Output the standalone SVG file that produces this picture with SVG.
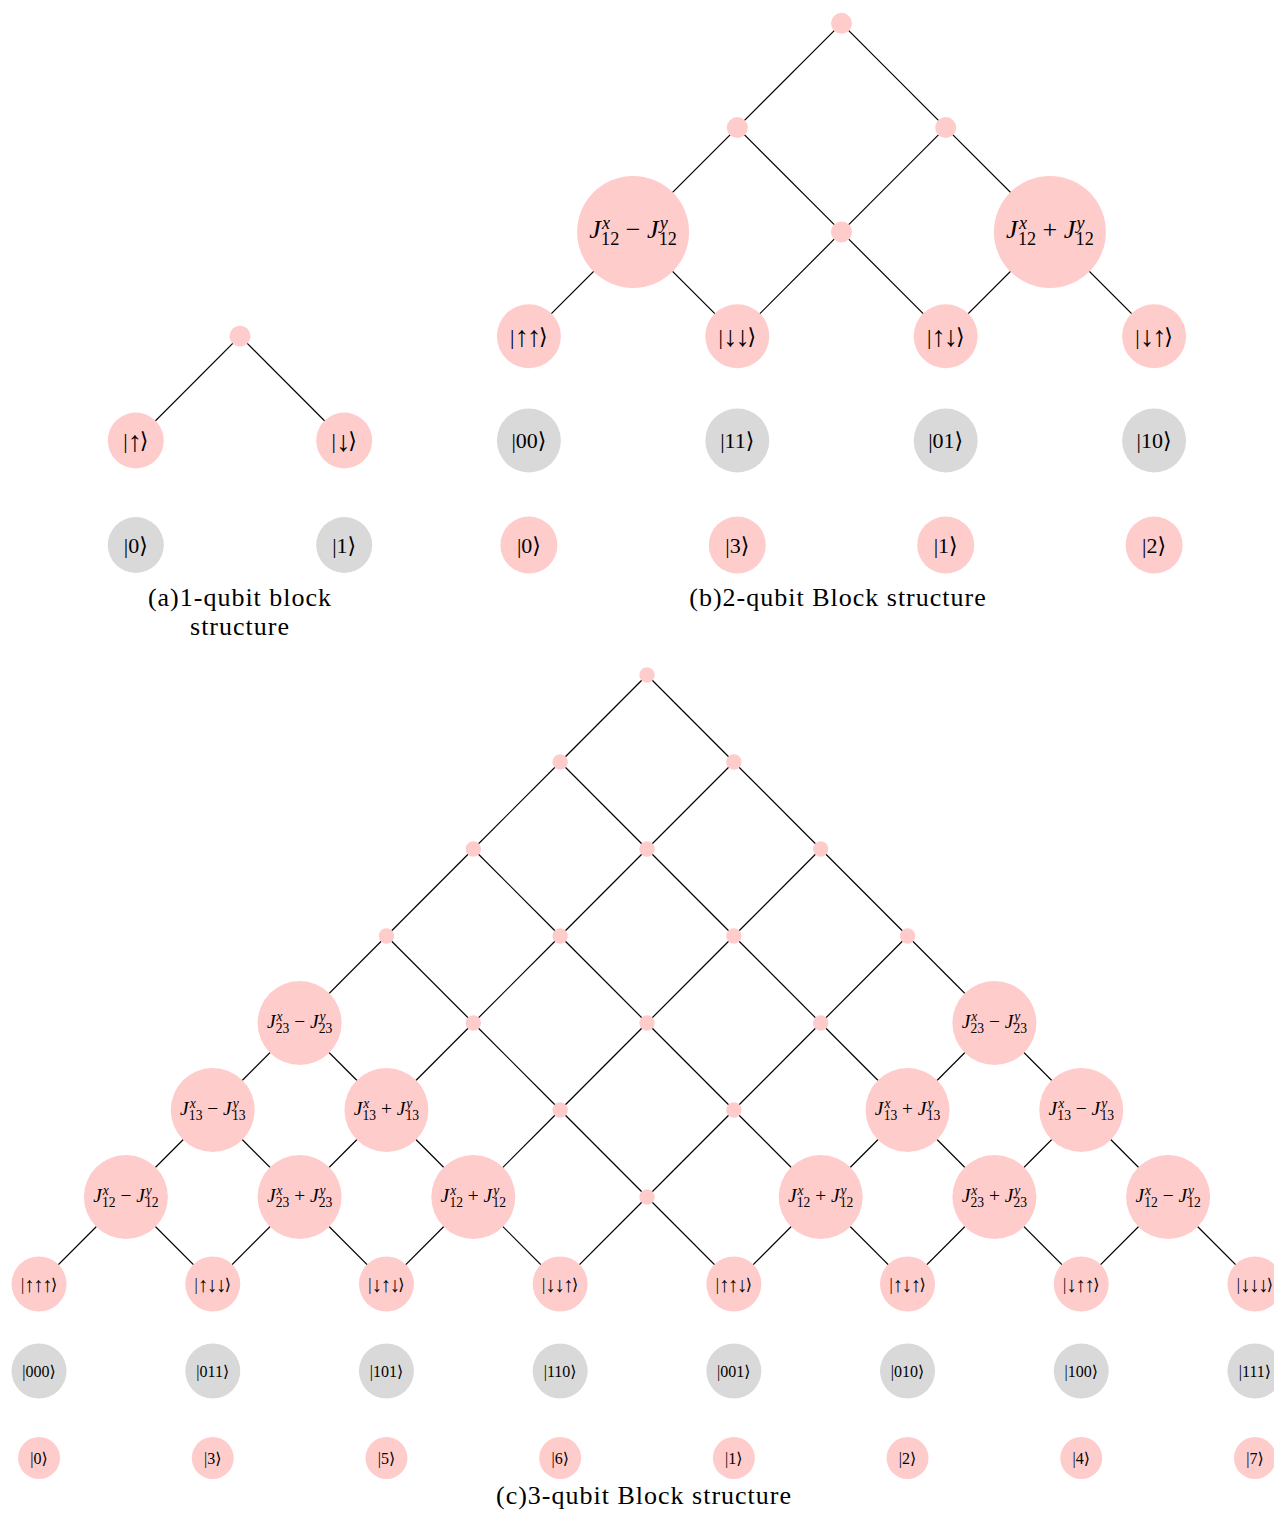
<svg xmlns="http://www.w3.org/2000/svg" width="1274" height="1517" viewBox="0 0 1274 1517">
<style>
.e{stroke:#000;stroke-width:1.2;fill:none}
.p{fill:#ffcccc}
.g{fill:#d9d9d9}
.k{font-family:"Liberation Serif","DejaVu Serif","DejaVu Sans",serif;text-anchor:middle;dominant-baseline:central;fill:#000}
.k22{font-size:22px}
.k16{font-size:16px}
.ar{font-size:130%;letter-spacing:-0.07em}
.jl{font-family:"Liberation Serif","DejaVu Serif",serif;font-size:20px;text-anchor:middle;fill:#000}
.it{font-style:italic}
.sm{font-size:14px}
.cap{font-family:"Liberation Serif","DejaVu Serif",serif;font-size:26px;text-anchor:middle;letter-spacing:1px;fill:#000}
</style>
<rect width="1274" height="1517" fill="#fff"/>

<g id="connectors">
<path class="e" d="M240 336.2l-104.2 104.3"/>
<path class="e" d="M240 336.2l104.2 104.3"/>
<path class="e" d="M841.5 23.3l-104.2 104.3"/>
<path class="e" d="M841.5 23.3l104.2 104.3"/>
<path class="e" d="M737.3 127.6l-104.2 104.3"/>
<path class="e" d="M737.3 127.6l104.2 104.3"/>
<path class="e" d="M945.7 127.6l-104.2 104.3"/>
<path class="e" d="M945.7 127.6l104.2 104.3"/>
<path class="e" d="M633.1 231.9l-104.2 104.3"/>
<path class="e" d="M633.1 231.9l104.2 104.3"/>
<path class="e" d="M841.5 231.9l-104.2 104.3"/>
<path class="e" d="M841.5 231.9l104.2 104.3"/>
<path class="e" d="M1049.9 231.9l-104.2 104.3"/>
<path class="e" d="M1049.9 231.9l104.2 104.3"/>
<path class="e" d="M647 675l-86.85 87"/>
<path class="e" d="M647 675l86.85 87"/>
<path class="e" d="M560.15 762l-86.85 87"/>
<path class="e" d="M560.15 762l86.85 87"/>
<path class="e" d="M733.85 762l-86.85 87"/>
<path class="e" d="M733.85 762l86.85 87"/>
<path class="e" d="M473.3 849l-86.85 87"/>
<path class="e" d="M473.3 849l86.85 87"/>
<path class="e" d="M647 849l-86.85 87"/>
<path class="e" d="M647 849l86.85 87"/>
<path class="e" d="M820.7 849l-86.85 87"/>
<path class="e" d="M820.7 849l86.85 87"/>
<path class="e" d="M386.45 936l-86.85 87"/>
<path class="e" d="M386.45 936l86.85 87"/>
<path class="e" d="M560.15 936l-86.85 87"/>
<path class="e" d="M560.15 936l86.85 87"/>
<path class="e" d="M733.85 936l-86.85 87"/>
<path class="e" d="M733.85 936l86.85 87"/>
<path class="e" d="M907.55 936l-86.85 87"/>
<path class="e" d="M907.55 936l86.85 87"/>
<path class="e" d="M299.6 1023l-86.85 87"/>
<path class="e" d="M299.6 1023l86.85 87"/>
<path class="e" d="M473.3 1023l-86.85 87"/>
<path class="e" d="M473.3 1023l86.85 87"/>
<path class="e" d="M647 1023l-86.85 87"/>
<path class="e" d="M647 1023l86.85 87"/>
<path class="e" d="M820.7 1023l-86.85 87"/>
<path class="e" d="M820.7 1023l86.85 87"/>
<path class="e" d="M994.4 1023l-86.85 87"/>
<path class="e" d="M994.4 1023l86.85 87"/>
<path class="e" d="M212.75 1110l-86.85 87"/>
<path class="e" d="M212.75 1110l86.85 87"/>
<path class="e" d="M386.45 1110l-86.85 87"/>
<path class="e" d="M386.45 1110l86.85 87"/>
<path class="e" d="M560.15 1110l-86.85 87"/>
<path class="e" d="M560.15 1110l86.85 87"/>
<path class="e" d="M733.85 1110l-86.85 87"/>
<path class="e" d="M733.85 1110l86.85 87"/>
<path class="e" d="M907.55 1110l-86.85 87"/>
<path class="e" d="M907.55 1110l86.85 87"/>
<path class="e" d="M1081.25 1110l-86.85 87"/>
<path class="e" d="M1081.25 1110l86.85 87"/>
<path class="e" d="M125.9 1197l-86.85 87"/>
<path class="e" d="M125.9 1197l86.85 87"/>
<path class="e" d="M299.6 1197l-86.85 87"/>
<path class="e" d="M299.6 1197l86.85 87"/>
<path class="e" d="M473.3 1197l-86.85 87"/>
<path class="e" d="M473.3 1197l86.85 87"/>
<path class="e" d="M647 1197l-86.85 87"/>
<path class="e" d="M647 1197l86.85 87"/>
<path class="e" d="M820.7 1197l-86.85 87"/>
<path class="e" d="M820.7 1197l86.85 87"/>
<path class="e" d="M994.4 1197l-86.85 87"/>
<path class="e" d="M994.4 1197l86.85 87"/>
<path class="e" d="M1168.1 1197l-86.85 87"/>
<path class="e" d="M1168.1 1197l86.85 87"/>
</g>

<!-- (a) 1-qubit -->
<g id="a_root"><circle class="p" cx="240" cy="336.2" r="10.5"/></g>
<g id="a_up"><circle class="p" cx="135.8" cy="440.5" r="28"/><text class="k k22" x="135.8" y="440.5">|<tspan class="ar">↑</tspan>⟩</text></g>
<g id="a_dn"><circle class="p" cx="344.2" cy="440.5" r="28"/><text class="k k22" x="344.2" y="440.5">|<tspan class="ar">↓</tspan>⟩</text></g>
<g id="a_b0"><circle class="g" cx="135.8" cy="545" r="28"/><text class="k k22" x="135.8" y="545">|0⟩</text></g>
<g id="a_b1"><circle class="g" cx="344.2" cy="545" r="28"/><text class="k k22" x="344.2" y="545">|1⟩</text></g>
<text class="cap" x="240" y="606">(a)1-qubit block</text>
<text class="cap" x="240" y="635">structure</text>

<!-- (b) 2-qubit -->
<g id="b_root"><circle class="p" cx="841.5" cy="23.3" r="10.5"/></g>
<g id="b_1a"><circle class="p" cx="737.3" cy="127.6" r="10.5"/></g>
<g id="b_1b"><circle class="p" cx="945.7" cy="127.6" r="10.5"/></g>
<g id="b_j12m"><circle class="p" cx="633.1" cy="231.9" r="56"/><g transform="translate(633.1 231.9) scale(1.3)"><text class="jl" x="0" y="5"><tspan class="it">J</tspan><tspan class="it sm" dx="1" dy="-7">x</tspan><tspan class="sm" dx="-7" dy="12">12</tspan><tspan dx="5" dy="-5">−</tspan><tspan class="it" dx="5">J</tspan><tspan class="it sm" dx="1" dy="-7">y</tspan><tspan class="sm" dx="-7" dy="12">12</tspan></text></g></g>
<g id="b_2b"><circle class="p" cx="841.5" cy="231.9" r="10.5"/></g>
<g id="b_j12p"><circle class="p" cx="1049.9" cy="231.9" r="56"/><g transform="translate(1049.9 231.9) scale(1.3)"><text class="jl" x="0" y="5"><tspan class="it">J</tspan><tspan class="it sm" dx="1" dy="-7">x</tspan><tspan class="sm" dx="-7" dy="12">12</tspan><tspan dx="5" dy="-5">+</tspan><tspan class="it" dx="5">J</tspan><tspan class="it sm" dx="1" dy="-7">y</tspan><tspan class="sm" dx="-7" dy="12">12</tspan></text></g></g>
<g id="b_uu"><circle class="p" cx="528.9" cy="336.2" r="32"/><text class="k k22" x="528.9" y="336.2">|<tspan class="ar">↑↑</tspan>⟩</text></g>
<g id="b_dd"><circle class="p" cx="737.3" cy="336.2" r="32"/><text class="k k22" x="737.3" y="336.2">|<tspan class="ar">↓↓</tspan>⟩</text></g>
<g id="b_ud"><circle class="p" cx="945.7" cy="336.2" r="32"/><text class="k k22" x="945.7" y="336.2">|<tspan class="ar">↑↓</tspan>⟩</text></g>
<g id="b_du"><circle class="p" cx="1154.1" cy="336.2" r="32"/><text class="k k22" x="1154.1" y="336.2">|<tspan class="ar">↓↑</tspan>⟩</text></g>
<g id="b_00"><circle class="g" cx="528.9" cy="440.5" r="32"/><text class="k k22" x="528.9" y="440.5">|00⟩</text></g>
<g id="b_11"><circle class="g" cx="737.3" cy="440.5" r="32"/><text class="k k22" x="737.3" y="440.5">|11⟩</text></g>
<g id="b_01"><circle class="g" cx="945.7" cy="440.5" r="32"/><text class="k k22" x="945.7" y="440.5">|01⟩</text></g>
<g id="b_10"><circle class="g" cx="1154.1" cy="440.5" r="32"/><text class="k k22" x="1154.1" y="440.5">|10⟩</text></g>
<g id="b_i0"><circle class="p" cx="528.9" cy="545" r="28.5"/><text class="k k22" x="528.9" y="545">|0⟩</text></g>
<g id="b_i3"><circle class="p" cx="737.3" cy="545" r="28.5"/><text class="k k22" x="737.3" y="545">|3⟩</text></g>
<g id="b_i1"><circle class="p" cx="945.7" cy="545" r="28.5"/><text class="k k22" x="945.7" y="545">|1⟩</text></g>
<g id="b_i2"><circle class="p" cx="1154.1" cy="545" r="28.5"/><text class="k k22" x="1154.1" y="545">|2⟩</text></g>
<text class="cap" x="838" y="606">(b)2-qubit Block structure</text>

<!-- (c) 3-qubit -->
<g id="c_0_0"><circle class="p" cx="647" cy="675" r="7.7"/></g>
<g id="c_1_0"><circle class="p" cx="560.15" cy="762" r="7.7"/></g>
<g id="c_1_1"><circle class="p" cx="733.85" cy="762" r="7.7"/></g>
<g id="c_2_0"><circle class="p" cx="473.3" cy="849" r="7.7"/></g>
<g id="c_2_1"><circle class="p" cx="647" cy="849" r="7.7"/></g>
<g id="c_2_2"><circle class="p" cx="820.7" cy="849" r="7.7"/></g>
<g id="c_3_0"><circle class="p" cx="386.45" cy="936" r="7.7"/></g>
<g id="c_3_1"><circle class="p" cx="560.15" cy="936" r="7.7"/></g>
<g id="c_3_2"><circle class="p" cx="733.85" cy="936" r="7.7"/></g>
<g id="c_3_3"><circle class="p" cx="907.55" cy="936" r="7.7"/></g>
<g id="c_4_0"><circle class="p" cx="299.6" cy="1023" r="42"/><g transform="translate(299.6 1023) scale(0.97)"><text class="jl" x="0" y="5"><tspan class="it">J</tspan><tspan class="it sm" dx="1" dy="-7">x</tspan><tspan class="sm" dx="-7" dy="12">23</tspan><tspan dx="5" dy="-5">−</tspan><tspan class="it" dx="5">J</tspan><tspan class="it sm" dx="1" dy="-7">y</tspan><tspan class="sm" dx="-7" dy="12">23</tspan></text></g></g>
<g id="c_4_1"><circle class="p" cx="473.3" cy="1023" r="7.7"/></g>
<g id="c_4_2"><circle class="p" cx="647" cy="1023" r="7.7"/></g>
<g id="c_4_3"><circle class="p" cx="820.7" cy="1023" r="7.7"/></g>
<g id="c_4_4"><circle class="p" cx="994.4" cy="1023" r="42"/><g transform="translate(994.4 1023) scale(0.97)"><text class="jl" x="0" y="5"><tspan class="it">J</tspan><tspan class="it sm" dx="1" dy="-7">x</tspan><tspan class="sm" dx="-7" dy="12">23</tspan><tspan dx="5" dy="-5">−</tspan><tspan class="it" dx="5">J</tspan><tspan class="it sm" dx="1" dy="-7">y</tspan><tspan class="sm" dx="-7" dy="12">23</tspan></text></g></g>
<g id="c_5_0"><circle class="p" cx="212.75" cy="1110" r="42"/><g transform="translate(212.75 1110) scale(0.97)"><text class="jl" x="0" y="5"><tspan class="it">J</tspan><tspan class="it sm" dx="1" dy="-7">x</tspan><tspan class="sm" dx="-7" dy="12">13</tspan><tspan dx="5" dy="-5">−</tspan><tspan class="it" dx="5">J</tspan><tspan class="it sm" dx="1" dy="-7">y</tspan><tspan class="sm" dx="-7" dy="12">13</tspan></text></g></g>
<g id="c_5_1"><circle class="p" cx="386.45" cy="1110" r="42"/><g transform="translate(386.45 1110) scale(0.97)"><text class="jl" x="0" y="5"><tspan class="it">J</tspan><tspan class="it sm" dx="1" dy="-7">x</tspan><tspan class="sm" dx="-7" dy="12">13</tspan><tspan dx="5" dy="-5">+</tspan><tspan class="it" dx="5">J</tspan><tspan class="it sm" dx="1" dy="-7">y</tspan><tspan class="sm" dx="-7" dy="12">13</tspan></text></g></g>
<g id="c_5_2"><circle class="p" cx="560.15" cy="1110" r="7.7"/></g>
<g id="c_5_3"><circle class="p" cx="733.85" cy="1110" r="7.7"/></g>
<g id="c_5_4"><circle class="p" cx="907.55" cy="1110" r="42"/><g transform="translate(907.55 1110) scale(0.97)"><text class="jl" x="0" y="5"><tspan class="it">J</tspan><tspan class="it sm" dx="1" dy="-7">x</tspan><tspan class="sm" dx="-7" dy="12">13</tspan><tspan dx="5" dy="-5">+</tspan><tspan class="it" dx="5">J</tspan><tspan class="it sm" dx="1" dy="-7">y</tspan><tspan class="sm" dx="-7" dy="12">13</tspan></text></g></g>
<g id="c_5_5"><circle class="p" cx="1081.25" cy="1110" r="42"/><g transform="translate(1081.25 1110) scale(0.97)"><text class="jl" x="0" y="5"><tspan class="it">J</tspan><tspan class="it sm" dx="1" dy="-7">x</tspan><tspan class="sm" dx="-7" dy="12">13</tspan><tspan dx="5" dy="-5">−</tspan><tspan class="it" dx="5">J</tspan><tspan class="it sm" dx="1" dy="-7">y</tspan><tspan class="sm" dx="-7" dy="12">13</tspan></text></g></g>
<g id="c_6_0"><circle class="p" cx="125.9" cy="1197" r="42"/><g transform="translate(125.9 1197) scale(0.97)"><text class="jl" x="0" y="5"><tspan class="it">J</tspan><tspan class="it sm" dx="1" dy="-7">x</tspan><tspan class="sm" dx="-7" dy="12">12</tspan><tspan dx="5" dy="-5">−</tspan><tspan class="it" dx="5">J</tspan><tspan class="it sm" dx="1" dy="-7">y</tspan><tspan class="sm" dx="-7" dy="12">12</tspan></text></g></g>
<g id="c_6_1"><circle class="p" cx="299.6" cy="1197" r="42"/><g transform="translate(299.6 1197) scale(0.97)"><text class="jl" x="0" y="5"><tspan class="it">J</tspan><tspan class="it sm" dx="1" dy="-7">x</tspan><tspan class="sm" dx="-7" dy="12">23</tspan><tspan dx="5" dy="-5">+</tspan><tspan class="it" dx="5">J</tspan><tspan class="it sm" dx="1" dy="-7">y</tspan><tspan class="sm" dx="-7" dy="12">23</tspan></text></g></g>
<g id="c_6_2"><circle class="p" cx="473.3" cy="1197" r="42"/><g transform="translate(473.3 1197) scale(0.97)"><text class="jl" x="0" y="5"><tspan class="it">J</tspan><tspan class="it sm" dx="1" dy="-7">x</tspan><tspan class="sm" dx="-7" dy="12">12</tspan><tspan dx="5" dy="-5">+</tspan><tspan class="it" dx="5">J</tspan><tspan class="it sm" dx="1" dy="-7">y</tspan><tspan class="sm" dx="-7" dy="12">12</tspan></text></g></g>
<g id="c_6_3"><circle class="p" cx="647" cy="1197" r="7.7"/></g>
<g id="c_6_4"><circle class="p" cx="820.7" cy="1197" r="42"/><g transform="translate(820.7 1197) scale(0.97)"><text class="jl" x="0" y="5"><tspan class="it">J</tspan><tspan class="it sm" dx="1" dy="-7">x</tspan><tspan class="sm" dx="-7" dy="12">12</tspan><tspan dx="5" dy="-5">+</tspan><tspan class="it" dx="5">J</tspan><tspan class="it sm" dx="1" dy="-7">y</tspan><tspan class="sm" dx="-7" dy="12">12</tspan></text></g></g>
<g id="c_6_5"><circle class="p" cx="994.4" cy="1197" r="42"/><g transform="translate(994.4 1197) scale(0.97)"><text class="jl" x="0" y="5"><tspan class="it">J</tspan><tspan class="it sm" dx="1" dy="-7">x</tspan><tspan class="sm" dx="-7" dy="12">23</tspan><tspan dx="5" dy="-5">+</tspan><tspan class="it" dx="5">J</tspan><tspan class="it sm" dx="1" dy="-7">y</tspan><tspan class="sm" dx="-7" dy="12">23</tspan></text></g></g>
<g id="c_6_6"><circle class="p" cx="1168.1" cy="1197" r="42"/><g transform="translate(1168.1 1197) scale(0.97)"><text class="jl" x="0" y="5"><tspan class="it">J</tspan><tspan class="it sm" dx="1" dy="-7">x</tspan><tspan class="sm" dx="-7" dy="12">12</tspan><tspan dx="5" dy="-5">−</tspan><tspan class="it" dx="5">J</tspan><tspan class="it sm" dx="1" dy="-7">y</tspan><tspan class="sm" dx="-7" dy="12">12</tspan></text></g></g>
<g id="c_uuu"><circle class="p" cx="39.05" cy="1284" r="27.5"/><text class="k k16" x="39.05" y="1284">|<tspan class="ar">↑↑↑</tspan>⟩</text></g>
<g id="c_udd"><circle class="p" cx="212.75" cy="1284" r="27.5"/><text class="k k16" x="212.75" y="1284">|<tspan class="ar">↑↓↓</tspan>⟩</text></g>
<g id="c_dud"><circle class="p" cx="386.45" cy="1284" r="27.5"/><text class="k k16" x="386.45" y="1284">|<tspan class="ar">↓↑↓</tspan>⟩</text></g>
<g id="c_ddu"><circle class="p" cx="560.15" cy="1284" r="27.5"/><text class="k k16" x="560.15" y="1284">|<tspan class="ar">↓↓↑</tspan>⟩</text></g>
<g id="c_uud"><circle class="p" cx="733.85" cy="1284" r="27.5"/><text class="k k16" x="733.85" y="1284">|<tspan class="ar">↑↑↓</tspan>⟩</text></g>
<g id="c_udu"><circle class="p" cx="907.55" cy="1284" r="27.5"/><text class="k k16" x="907.55" y="1284">|<tspan class="ar">↑↓↑</tspan>⟩</text></g>
<g id="c_duu"><circle class="p" cx="1081.25" cy="1284" r="27.5"/><text class="k k16" x="1081.25" y="1284">|<tspan class="ar">↓↑↑</tspan>⟩</text></g>
<g id="c_ddd"><circle class="p" cx="1254.95" cy="1284" r="27.5"/><text class="k k16" x="1254.95" y="1284">|<tspan class="ar">↓↓↓</tspan>⟩</text></g>
<g id="c_000"><circle class="g" cx="39.05" cy="1371" r="27.5"/><text class="k k16" x="39.05" y="1371">|000⟩</text></g>
<g id="c_011"><circle class="g" cx="212.75" cy="1371" r="27.5"/><text class="k k16" x="212.75" y="1371">|011⟩</text></g>
<g id="c_101"><circle class="g" cx="386.45" cy="1371" r="27.5"/><text class="k k16" x="386.45" y="1371">|101⟩</text></g>
<g id="c_110"><circle class="g" cx="560.15" cy="1371" r="27.5"/><text class="k k16" x="560.15" y="1371">|110⟩</text></g>
<g id="c_001"><circle class="g" cx="733.85" cy="1371" r="27.5"/><text class="k k16" x="733.85" y="1371">|001⟩</text></g>
<g id="c_010"><circle class="g" cx="907.55" cy="1371" r="27.5"/><text class="k k16" x="907.55" y="1371">|010⟩</text></g>
<g id="c_100"><circle class="g" cx="1081.25" cy="1371" r="27.5"/><text class="k k16" x="1081.25" y="1371">|100⟩</text></g>
<g id="c_111"><circle class="g" cx="1254.95" cy="1371" r="27.5"/><text class="k k16" x="1254.95" y="1371">|111⟩</text></g>
<g id="c_i0"><circle class="p" cx="39.05" cy="1458" r="21"/><text class="k k16" x="39.05" y="1458">|0⟩</text></g>
<g id="c_i3"><circle class="p" cx="212.75" cy="1458" r="21"/><text class="k k16" x="212.75" y="1458">|3⟩</text></g>
<g id="c_i5"><circle class="p" cx="386.45" cy="1458" r="21"/><text class="k k16" x="386.45" y="1458">|5⟩</text></g>
<g id="c_i6"><circle class="p" cx="560.15" cy="1458" r="21"/><text class="k k16" x="560.15" y="1458">|6⟩</text></g>
<g id="c_i1"><circle class="p" cx="733.85" cy="1458" r="21"/><text class="k k16" x="733.85" y="1458">|1⟩</text></g>
<g id="c_i2"><circle class="p" cx="907.55" cy="1458" r="21"/><text class="k k16" x="907.55" y="1458">|2⟩</text></g>
<g id="c_i4"><circle class="p" cx="1081.25" cy="1458" r="21"/><text class="k k16" x="1081.25" y="1458">|4⟩</text></g>
<g id="c_i7"><circle class="p" cx="1254.95" cy="1458" r="21"/><text class="k k16" x="1254.95" y="1458">|7⟩</text></g>
<text class="cap" x="644" y="1504">(c)3-qubit Block structure</text>
</svg>
